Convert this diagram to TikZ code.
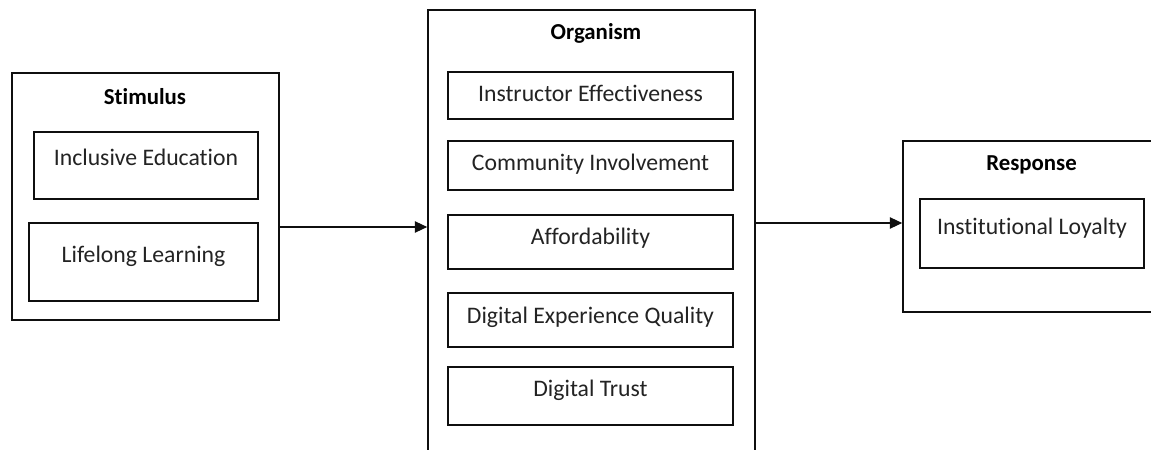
\documentclass[tikz,border=0pt]{standalone}
\usepackage{fontspec}
\setmainfont{Carlito}[Ligatures=NoCommon]
\usetikzlibrary{arrows.meta,positioning}
\definecolor{framegray}{RGB}{15,15,15}
\definecolor{textgray}{RGB}{35,35,35}
\tikzset{
    % outer S-O-R boxes
    stagebox/.style={
        rectangle, draw=framegray, line width=1pt, fill=white,
        inner sep=0pt
    },
    stagetitle/.style={
        font=\fontsize{13}{16}\selectfont\bfseries, text=black
    },
    % factor boxes inside a stage
    factorbox/.style={
        rectangle, draw=framegray, line width=0.9pt, fill=white,
        inner sep=0pt, font=\fontsize{13.5}{16}\selectfont,
        text=textgray, text height=8.7pt, text depth=#1
    },
    factorbox/.default=2pt,
    arrow/.style={
        -{Triangle[length=7pt,width=6.5pt]}, line width=0.6pt, color=framegray
    }
}
\begin{document}
\begin{tikzpicture}[x=0.02cm, y=-0.02cm]
\useasboundingbox (0,0) rectangle (1151,449);
\clip (0,0) rectangle (1151,449);

% Stimulus
\node[stagebox, minimum width=5.34cm, minimum height=4.94cm] (stimulus) at (145.5,196.5) {};
\node[stagetitle] (stimulus_title) at (145,97) {Stimulus};
\node[factorbox=8.5pt, minimum width=4.48cm, minimum height=1.34cm] (inclusive) at (146,165.5) {Inclusive Education};
\node[factorbox=7.9pt, minimum width=4.58cm, minimum height=1.56cm] (lifelong) at (143.5,262) {Lifelong Learning};

% Organism
\node[stagebox, minimum width=6.54cm, minimum height=9cm] (organism) at (591.5,235) {};
\node[stagetitle] (organism_title) at (596,33) {Organism};
\node[factorbox=1.7pt, minimum width=5.7cm, minimum height=0.94cm] (instructor) at (590.5,95.5) {Instructor Effectiveness};
\node[factorbox=2.8pt, minimum width=5.7cm, minimum height=0.98cm] (community) at (590.5,165.5) {Community Involvement};
\node[factorbox=5.7pt, minimum width=5.7cm, minimum height=1.08cm] (afford) at (590.5,242) {Affordability};
\node[factorbox=4.5pt, minimum width=5.7cm, minimum height=1.08cm] (digital_exp) at (590.5,320) {Digital Experience Quality};
\node[factorbox=7.9pt, minimum width=5.7cm, minimum height=1.16cm] (digital_trust) at (590.5,396) {Digital Trust};

% Response
\node[stagebox, minimum width=5.24cm, minimum height=3.42cm] (response) at (1034,226.5) {};
\node[stagetitle] (response_title) at (1031.5,165) {Response};
\node[factorbox=7.4pt, minimum width=4.48cm, minimum height=1.38cm] (loyalty) at (1032,233.5) {Institutional Loyalty};

% Arrows
\draw[arrow] (stimulus.east |- 0,227) -- (organism.west |- 0,227);
\draw[arrow] (organism.east |- 0,223) -- (response.west |- 0,223);

\end{tikzpicture}
\end{document}
